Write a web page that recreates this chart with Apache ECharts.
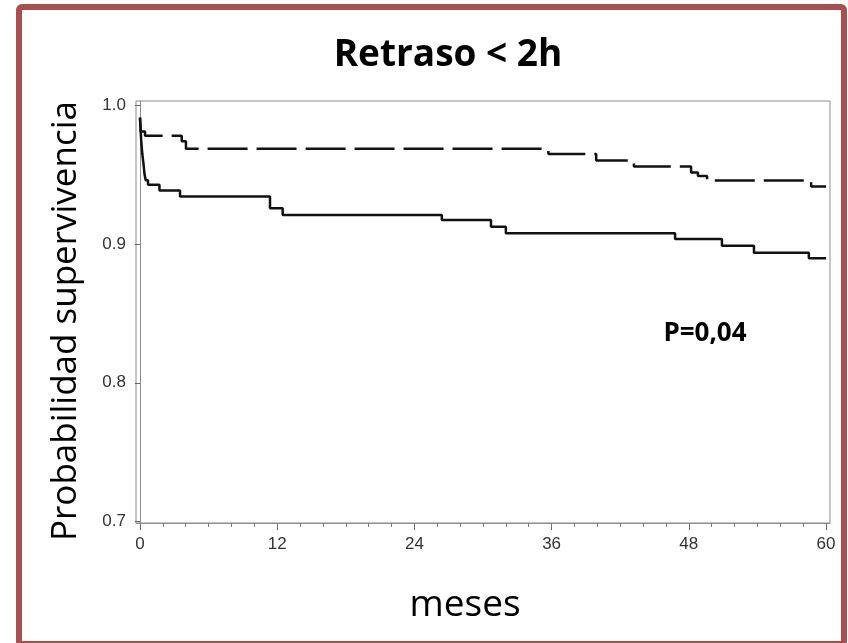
<!DOCTYPE html>
<html>
<head>
<meta charset="utf-8">
<script src="https://cdn.jsdelivr.net/npm/echarts@6/dist/echarts.min.js"></script>
<style>
  html, body { margin: 0; padding: 0; background: #fff; }
  #chart { width: 848px; height: 643px; }
</style>
</head>
<body>
<div id="chart"></div>
<script>
// curva discontinua (superior): tiempos (meses) y supervivencia
const dashedT = [0, 0.06, 0.44, 3.65, 4.02, 35.72, 39.9, 43.2, 48.2, 48.8, 49.6, 58.7, 60];
const dashedS = [0.991, 0.981, 0.978, 0.974, 0.9686, 0.9648, 0.9601, 0.9558, 0.9515, 0.949, 0.9457, 0.9414, 0.9414];
// curva continua (inferior)
const solidT = [0, 0.1, 0.2, 0.3, 0.4, 0.5, 0.7, 1.7, 3.5, 11.37, 12.48, 26.4, 30.7, 32.0, 46.8, 50.9, 53.7, 58.5, 60];
const solidS = [0.991, 0.975, 0.965, 0.958, 0.95, 0.946, 0.9426, 0.9385, 0.9342, 0.9258, 0.9209, 0.9173, 0.9125, 0.9077, 0.9036, 0.8988, 0.8937, 0.8897, 0.8897];
// marcas de los ejes
const xLabels = [0, 12, 24, 36, 48, 60];
const xMinor = [0, 2, 4, 6, 8, 10, 12, 14, 16, 18, 20, 22, 24, 26, 28, 30, 32, 34, 36, 38, 40, 42, 44, 46, 48, 50, 52, 54, 56, 58, 60];
const yLabels = [0.7, 0.8, 0.9, 1.0];

const toPairs = (t, s) => t.map((v, i) => [v, s[i]]);

let myChart = echarts.init(document.getElementById("chart"));
const tickFont = { color: "#333", fontSize: 17, fontFamily: "Liberation Sans" };

myChart.setOption({
  animation: false,
  title: {
    text: "Retraso < 2h",
    left: 443,
    top: 32,
    textAlign: "center",
    textStyle: { fontSize: 37, fontWeight: "bold", fontFamily: "Open Sans", color: "#000" },
  },
  grid: {
    left: 136, right: 18, top: 101, bottom: 120,
    show: true, borderColor: "#8c8c8c", borderWidth: 1,
  },
  xAxis: [
    {
      type: "value", min: -0.35, max: 60.35,
      splitLine: { show: false },
      axisLine: { show: true, onZero: false, lineStyle: { color: "#8c8c8c" } },
      axisTick: { show: true, length: 7, customValues: xLabels, lineStyle: { color: "#666" } },
      axisLabel: { show: true, customValues: xLabels, margin: 13, ...tickFont },
    },
    {
      // marcas menores cada 2 meses
      type: "value", min: -0.35, max: 60.35, position: "bottom",
      splitLine: { show: false },
      axisLine: { show: false },
      axisTick: { show: true, length: 4, customValues: xMinor, lineStyle: { color: "#777" } },
      axisLabel: { show: false },
    },
  ],
  yAxis: {
    type: "value", min: 0.699, max: 1.003,
    splitLine: { show: false },
    axisLine: { show: true, lineStyle: { color: "#8c8c8c" } },
    axisTick: { show: true, length: 5, customValues: yLabels, lineStyle: { color: "#666" } },
    axisLabel: {
      customValues: yLabels, margin: 10, ...tickFont,
      formatter: (v) => v.toFixed(1),
    },
  },
  series: [
    {
      name: "discontinua",
      type: "line", step: "end", symbol: "none",
      data: toPairs(dashedT, dashedS),
      lineStyle: { color: "#111", width: 2.5, type: [40, 9] },
    },
    {
      name: "continua",
      type: "line", step: "end", symbol: "none",
      data: toPairs(solidT, solidS),
      lineStyle: { color: "#111", width: 2.5 },
    },
  ],
  graphic: [
    {
      type: "rect", silent: true, z: 100,
      shape: { x: 19, y: 7, width: 825, height: 637, r: 3 },
      style: { fill: "none", stroke: "#a84f4f", lineWidth: 6 },
    },
    {
      type: "text", x: 66, y: 321, rotation: Math.PI / 2,
      style: {
        text: "Probabilidad supervivencia", fill: "#000",
        font: "35px 'Open Sans'", align: "center", verticalAlign: "middle",
      },
    },
    {
      type: "text", x: 465, y: 605,
      style: {
        text: "meses", fill: "#000",
        font: "37px 'Open Sans'", align: "center", verticalAlign: "middle",
      },
    },
    {
      type: "text", x: 705, y: 334,
      style: {
        text: "P=0,04", fill: "#000",
        font: "bold 26px 'Open Sans'", align: "center", verticalAlign: "middle",
      },
    },
  ],
});
</script>
</body>
</html>
